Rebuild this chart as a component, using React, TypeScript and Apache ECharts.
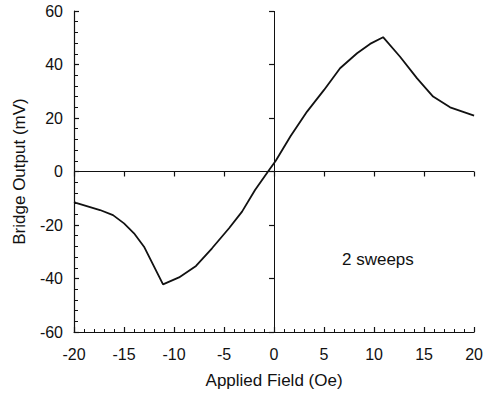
import React, { useEffect, useRef } from "react";
import * as echarts from "echarts";

const fieldOe = [-20, -19.8, -17.4, -16.1, -15, -14, -13, -11.1, -9.5, -7.8, -6.2, -4.5, -3.2, -1.9, -0.6, 0.17, 1.66, 3.3, 5, 6.6, 8.3, 9.6, 10.9, 12.6, 14.3, 15.9, 17.6, 20];
const outputMV = [-11.4, -11.7, -14.4, -16.3, -19.4, -23.1, -28.1, -42.2, -39.6, -35.3, -28.7, -21.2, -15, -6.9, 0, 4, 13.3, 22.4, 30.5, 38.6, 44.2, 47.7, 50.2, 42.9, 34.8, 28, 24, 20.9];

const xTicks = { min: -20, max: 20, interval: 5 };
const yTicks = { min: -60, max: 60, interval: 20 };

const FONT = "'Liberation Sans', Arial, sans-serif";
const INK = "#111";

export default function App() {
  const ref = useRef<HTMLDivElement>(null);
  useEffect(() => {
    if (!ref.current) return;
    const chart = echarts.init(ref.current, undefined, { renderer: "svg" });
    const points = fieldOe.map((x, i) => [x, outputMV[i]]);
    const axisCommon = {
      axisLine: { show: true, onZero: false, lineStyle: { color: INK, width: 1.2 } },
      splitLine: { show: false },
    };
    chart.setOption({
      animation: false,
      backgroundColor: "#fff",
      grid: { left: 74, right: 10, top: 11, bottom: 62 },
      xAxis: [
        {
          type: "value",
          ...xTicks,
          ...axisCommon,
          axisTick: { show: true, inside: true, length: 5, lineStyle: { color: INK, width: 1.2 } },
          minorTick: { show: true, splitNumber: 5, length: 3, lineStyle: { color: INK, width: 1 } },
          axisLabel: { color: INK, fontFamily: FONT, fontSize: 16, margin: 14 },
          name: "Applied Field (Oe)",
          nameLocation: "middle",
          nameGap: 40,
          nameTextStyle: { color: INK, fontFamily: FONT, fontSize: 17 },
        },
        {
          type: "value",
          ...xTicks,
          position: "bottom",
          axisLine: { show: false },
          splitLine: { show: false },
          axisTick: { show: true, inside: false, length: 5, lineStyle: { color: INK, width: 1.2 } },
          axisLabel: { show: false },
        },
      ],
      yAxis: [
        {
          type: "value",
          ...yTicks,
          ...axisCommon,
          axisTick: { show: true, inside: true, length: 5, lineStyle: { color: INK, width: 1.2 } },
          minorTick: { show: true, splitNumber: 5, length: 4, lineStyle: { color: INK, width: 1 } },
          axisLabel: { color: INK, fontFamily: FONT, fontSize: 16, margin: 11 },
          name: "Bridge Output (mV)",
          nameLocation: "middle",
          nameGap: 46,
          nameTextStyle: { color: INK, fontFamily: FONT, fontSize: 17 },
        },
        {
          type: "value",
          ...yTicks,
          position: "left",
          axisLine: { show: false },
          splitLine: { show: false },
          axisTick: { show: true, inside: false, length: 5, lineStyle: { color: INK, width: 1.2 } },
          axisLabel: { show: false },
        },
      ],
      series: [
        {
          type: "line",
          data: points,
          showSymbol: false,
          smooth: false,
          lineStyle: { color: INK, width: 1.8 },
          markLine: {
            silent: true,
            symbol: "none",
            label: { show: false },
            lineStyle: { color: INK, width: 1, type: "solid" },
            data: [{ xAxis: 0 }, { yAxis: 0 }],
          },
        },
      ],
      graphic: [
        {
          type: "text",
          left: 342,
          top: 251,
          style: { text: "2 sweeps", fill: INK, font: `17px ${FONT}` },
        },
      ],
    });
    return () => chart.dispose();
  }, []);
  return (
    <div
      ref={ref}
      style={{ position: "absolute", left: 0, top: 0, width: 486, height: 394 }}
    />
  );
}
